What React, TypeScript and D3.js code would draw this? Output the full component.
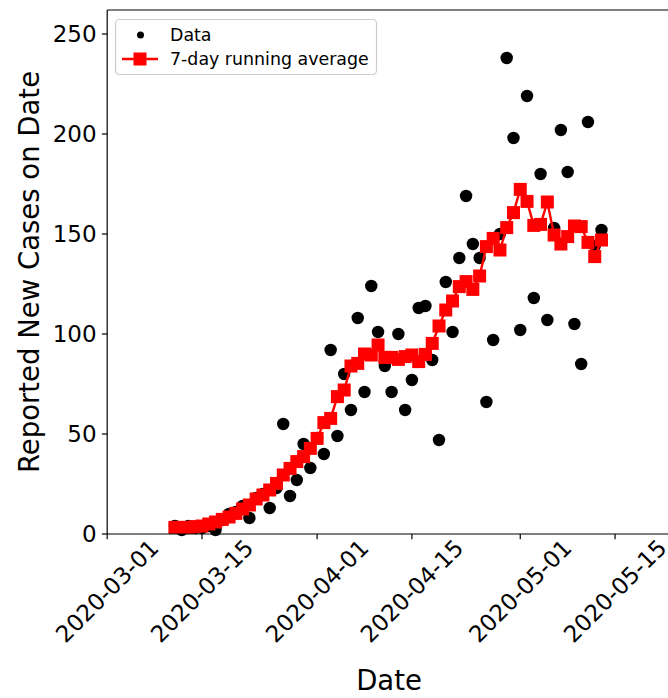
import React from "react";
import * as d3 from "d3";

const startDate = "2020-03-11";
const cases = [4,2,4,3,3,4,2,7,10,11, 14,8,18,20,13,23,55,19,27,45, 33,48,40,92,49,80,62,108,71,124, 101,84,71,100,62,77,113,114,87,47, 126,101,138,169,145,138,66,97,150,238, 198,102,219,118,180,107,153,202,181,105, 85,206,144,152];
const runningAvg = [3.3,3.3,3.3,3.7,4,5,6,7.3,8.5,10.3, 12.5,14.5,17.5,19.5,22,25.3,29.5,32.8,36.2,38.7, 42.8,47.8,55.7,57.8,68.7,72,84,85.3,90,89.5, 94.5,88.3,88.3,87.3,88.7,89.5,86.2,89.8,95.3,104, 112,116.5,123.7,126.2,122.3,129,143.7,147.8,142,153.2, 160.7,172.3,166.3,154.3,154.8,166,149.5,145,148.7,154, 153.7,145.8,138.7,147];
const xTickLabels = ["2020-03-01","2020-03-15","2020-04-01","2020-04-15","2020-05-01","2020-05-15"];
const yTicks = [0,50,100,150,200,250];
const xDomain = ["2020-03-01","2020-05-24"];
const yDomain = [0, 262];

const parse = (s: string) => new Date(s + "T00:00:00Z");

export default function App() {
  const W = 668, H = 698;
  const left = 107.2, right = 676, top = 10, bottom = 534;
  const x = d3.scaleUtc().domain(xDomain.map(parse)).range([left, right]);
  const y = d3.scaleLinear().domain(yDomain).range([bottom, top]);
  const start = parse(startDate);
  const dates = cases.map((_, i) => d3.utcDay.offset(start, i));
  const line = d3.line<number>().x((_, i) => x(dates[i])).y(v => y(v));
  const font = "DejaVu Sans, sans-serif";
  const tickFs = 23;
  const labelFs = 27.5;
  const legFs = 17.4;
  const tl = 5.3;
  const sq = 13;
  return (
    <svg width={W} height={H} style={{ position: "absolute", left: 0, top: 0, background: "#fff" }} fontFamily={font}>
      <rect x={0} y={0} width={W} height={H} fill="#fff" />
      {cases.map((v, i) => (
        <circle key={"c" + i} cx={x(dates[i])} cy={y(v)} r={6.2} fill="#000" />
      ))}
      <path d={line(runningAvg) || ""} fill="none" stroke="#ff0000" strokeWidth={2.4} />
      {runningAvg.map((v, i) => (
        <rect key={"s" + i} x={x(dates[i]) - sq / 2} y={y(v) - sq / 2} width={sq} height={sq} fill="#ff0000" />
      ))}
      {/* spines */}
      <line x1={left} x2={left} y1={top} y2={bottom} stroke="#000" strokeWidth={1.2} />
      <line x1={left} x2={W + 10} y1={top} y2={top} stroke="#000" strokeWidth={1.2} />
      <line x1={left} x2={W + 10} y1={bottom} y2={bottom} stroke="#000" strokeWidth={1.2} />
      {yTicks.map(t => (
        <g key={"y" + t}>
          <line x1={left - tl} x2={left} y1={y(t)} y2={y(t)} stroke="#000" strokeWidth={1.2} />
          <text x={left - tl - 5.3} y={y(t)} textAnchor="end" dominantBaseline="central" fontSize={tickFs}>{t}</text>
        </g>
      ))}
      {xTickLabels.map(t => {
        const tx = x(parse(t));
        return (
          <g key={"x" + t}>
            <line x1={tx} x2={tx} y1={bottom} y2={bottom + tl} stroke="#000" strokeWidth={1.2} />
            <text transform={`translate(${tx},${591}) rotate(-45)`} textAnchor="middle" dominantBaseline="central" fontSize={tickFs}>{t}</text>
          </g>
        );
      })}
      <text x={389} y={690} textAnchor="middle" fontSize={labelFs}>Date</text>
      <text transform={`translate(${39},${(top + bottom) / 2}) rotate(-90)`} textAnchor="middle" fontSize={labelFs}>Reported New Cases on Date</text>
      {/* legend */}
      <rect x={115.5} y={19.5} width={261} height={55} rx={4} fill="#fff" fillOpacity={0.8} stroke="#cccccc" strokeWidth={1.2} />
      <circle cx={140.5} cy={35} r={3.5} fill="#000" />
      <text x={170} y={35} dominantBaseline="central" fontSize={legFs}>Data</text>
      <line x1={122} x2={158} y1={59} y2={59} stroke="#ff0000" strokeWidth={2.4} />
      <rect x={140 - sq / 2} y={59 - sq / 2} width={sq} height={sq} fill="#ff0000" />
      <text x={170} y={59} dominantBaseline="central" fontSize={legFs}>7-day running average</text>
    </svg>
  );
}
